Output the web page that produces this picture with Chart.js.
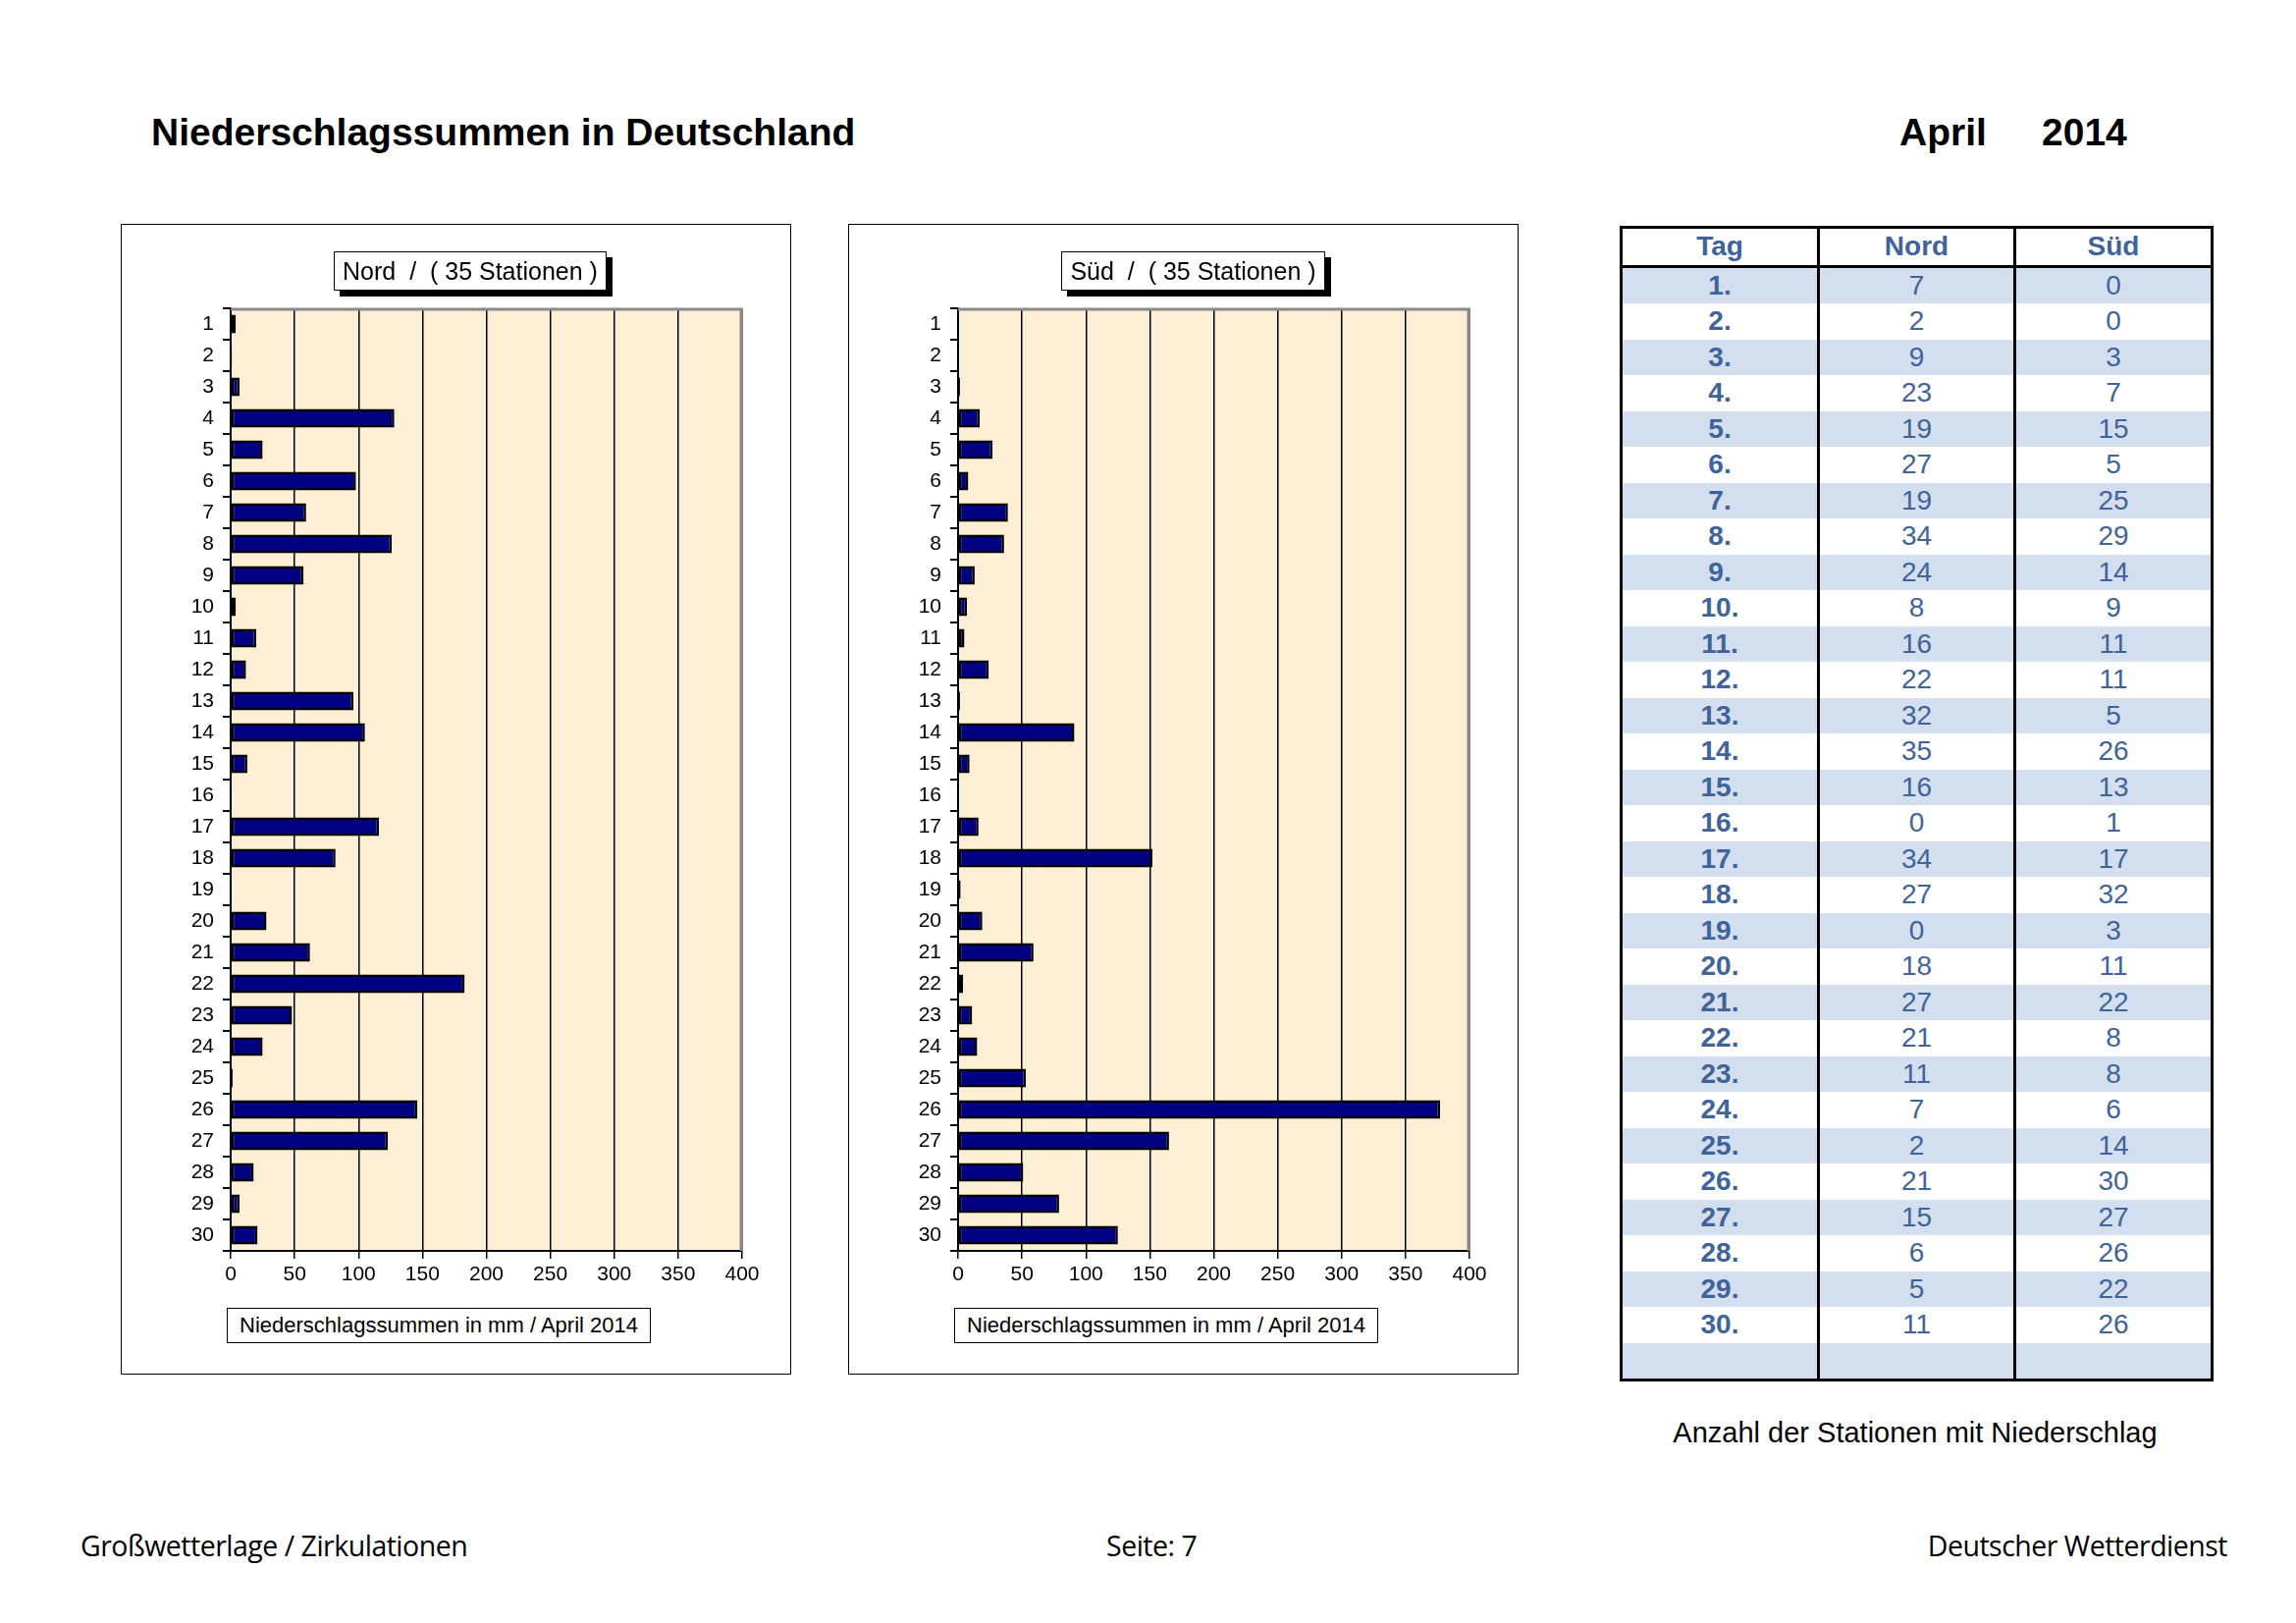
<!DOCTYPE html>
<html>
<head>
<meta charset="utf-8">
<script src="https://cdn.jsdelivr.net/npm/chart.js@4.4.0/dist/chart.umd.min.js"></script>
<style>
  body { margin: 0; width: 2339px; height: 1653px; background: #fff; position: relative; font-family: "Liberation Sans", Arial, sans-serif; overflow: hidden; }
  .abs { position: absolute; }
  .title { left: 154px; top: 113px; font-size: 39px; font-weight: bold; color: #000; }
  .month { left: 1935px; top: 113px; font-size: 39px; font-weight: bold; }
  .year { left: 2080px; top: 113px; font-size: 39px; font-weight: bold; }
  .chartbox { border: 1.5px solid #000; width: 681px; height: 1170px; top: 228px; }
  .chartbox .wrap { position: absolute; left: 0; top: 0; width: 681px; height: 1170px; }
  .capbox { border: 1.5px solid #000; background: #fff; font-size: 25px; height: 38px; line-height: 38px; text-align: center; box-shadow: 6px 6px 0 #000; white-space: pre; }
  .axbox { border: 1.5px solid #000; background: #fff; font-size: 22px; height: 34px; line-height: 34px; text-align: center; }
  table { border-collapse: collapse; table-layout: fixed; position: absolute; left: 1650px; top: 230px; width: 602px; border: 3px solid #000; font-family: "Liberation Sans Narrow", "Liberation Sans", Arial, sans-serif; }
  td, th { height: 36.5px; padding: 0; text-align: center; font-size: 28px; color: #40649a; border-left: 3px solid #000; border-right: 3px solid #000; line-height: 36px; }
  th { font-weight: bold; border-bottom: 3px solid #000; background: #fff; }
  td.day { font-weight: bold; }
  tr.blue td { background: #d3dfee; }
  .note { left: 1650px; width: 602px; text-align: center; top: 1443px; font-size: 29px; }
  .foot { top: 1555px; font-size: 28.5px; font-family: "Open Sans", "Noto Sans", sans-serif; letter-spacing: -0.5px; }
</style>
</head>
<body>
<div class="abs title">Niederschlagssummen in Deutschland</div>
<div class="abs month">April</div>
<div class="abs year">2014</div>

<div class="abs chartbox" style="left:123px;">
  <div class="wrap"><canvas id="nordChart"></canvas></div>
  <div class="abs capbox" style="left:216px; top:27px; width:276px;">Nord  /  ( 35 Stationen )</div>
  <div class="abs axbox" style="left:107px; top:1103px; width:430px;">Niederschlagssummen in mm / April 2014</div>
</div>

<div class="abs chartbox" style="left:864px;">
  <div class="wrap"><canvas id="suedChart"></canvas></div>
  <div class="abs capbox" style="left:216px; top:27px; width:267px;">Süd  /  ( 35 Stationen )</div>
  <div class="abs axbox" style="left:107px; top:1103px; width:430px;">Niederschlagssummen in mm / April 2014</div>
</div>

<table id="countTable"></table>
<div class="abs note">Anzahl der Stationen mit Niederschlag</div>

<div class="abs foot" style="left:82px;">Großwetterlage / Zirkulationen</div>
<div class="abs foot" style="left:1127px;">Seite: 7</div>
<div class="abs foot" style="right:70px;">Deutscher Wetterdienst</div>

<script>
// Tage 1..30
const days = Array.from({ length: 30 }, (_, i) => String(i + 1));

// Niederschlagssummen in mm
const nordSum = [4, 1, 7, 128, 25, 98, 59, 126, 57, 4,
                 20, 12, 96, 105, 13, 0, 116, 82, 0, 28,
                 62, 183, 48, 25, 1.5, 146, 123, 18, 7, 21];
const suedSum = [0, 0, 1.5, 17, 27, 8, 39, 36, 13, 7,
                 5, 24, 1.5, 91, 9, 0, 16, 152, 2, 19,
                 59, 4, 11, 15, 53, 377, 165, 51, 79, 125];

// Anzahl der Stationen mit Niederschlag
const nordCount = [7, 2, 9, 23, 19, 27, 19, 34, 24, 8,
                   16, 22, 32, 35, 16, 0, 34, 27, 0, 18,
                   27, 21, 11, 7, 2, 21, 15, 6, 5, 11];
const suedCount = [0, 0, 3, 7, 15, 5, 25, 29, 14, 9,
                   11, 11, 5, 26, 13, 1, 17, 32, 3, 11,
                   22, 8, 8, 6, 14, 30, 27, 26, 22, 26];

const xTicks = [0, 50, 100, 150, 200, 250, 300, 350, 400];

// plot background and grey frame on top/right
const framePlugin = {
    id: 'frame',
    beforeDraw(chart) {
        const a = chart.chartArea, ctx = chart.ctx;
        ctx.save();
        ctx.fillStyle = '#fcefd6';
        ctx.fillRect(a.left, a.top, a.right - a.left, a.bottom - a.top);
        ctx.restore();
    },
    afterDraw(chart) {
        const a = chart.chartArea, ctx = chart.ctx;
        ctx.save();
        ctx.strokeStyle = '#8a8a8a';
        ctx.lineWidth = 3;
        ctx.beginPath();
        ctx.moveTo(a.left, a.top + 1);
        ctx.lineTo(a.right - 1, a.top + 1);
        ctx.lineTo(a.right - 1, a.bottom);
        ctx.stroke();
        ctx.restore();
    }
};

function makeChart(id, values) {
    const ctx = document.getElementById(id).getContext('2d');
    return new Chart(ctx, {
        type: 'bar',
        data: {
            labels: days,
            datasets: [{
                data: values,
                backgroundColor: '#000080',
                borderColor: '#000000',
                borderWidth: 2.5,
                borderSkipped: false,
                categoryPercentage: 1.0,
                barPercentage: 0.6
            }]
        },
        options: {
            indexAxis: 'y',
            responsive: true,
            maintainAspectRatio: false,
            animation: false,
            layout: { padding: { left: 67, top: 85, right: 49, bottom: 75 } },
            scales: {
                x: {
                    min: 0,
                    max: 400,
                    afterBuildTicks: function(scale) { scale.ticks = xTicks.map(v => ({ value: v })); },
                    afterFit: function(scale) { scale.height = 50; },
                    grid: { color: '#000', lineWidth: 1.5, tickLength: 8 },
                    border: { color: '#000', width: 2 },
                    ticks: { color: '#000', font: { family: 'Liberation Sans', size: 21 }, padding: 4, maxRotation: 0 }
                },
                y: {
                    afterFit: function(scale) { scale.width = 44; },
                    grid: { offset: true, drawOnChartArea: false, color: '#000', lineWidth: 2, tickLength: 8 },
                    border: { color: '#000', width: 2 },
                    ticks: { color: '#000', font: { family: 'Liberation Sans', size: 21 }, padding: 9, autoSkip: false }
                }
            },
            plugins: {
                legend: { display: false },
                tooltip: { enabled: false }
            }
        },
        plugins: [framePlugin]
    });
}

makeChart('nordChart', nordSum);
makeChart('suedChart', suedSum);

// Tabelle
const table = document.getElementById('countTable');
let html = '<colgroup><col style="width:201px"><col style="width:200px"><col style="width:201px"></colgroup>';
html += '<tr><th>Tag</th><th>Nord</th><th>Süd</th></tr>';
for (let i = 0; i < days.length; i++) {
    html += '<tr class="' + (i % 2 === 0 ? 'blue' : '') + '"><td class="day">' + days[i] + '.</td><td>' +
        nordCount[i] + '</td><td>' + suedCount[i] + '</td></tr>';
}
html += '<tr class="blue"><td></td><td></td><td></td></tr>';
table.innerHTML = html;
</script>
</body>
</html>
